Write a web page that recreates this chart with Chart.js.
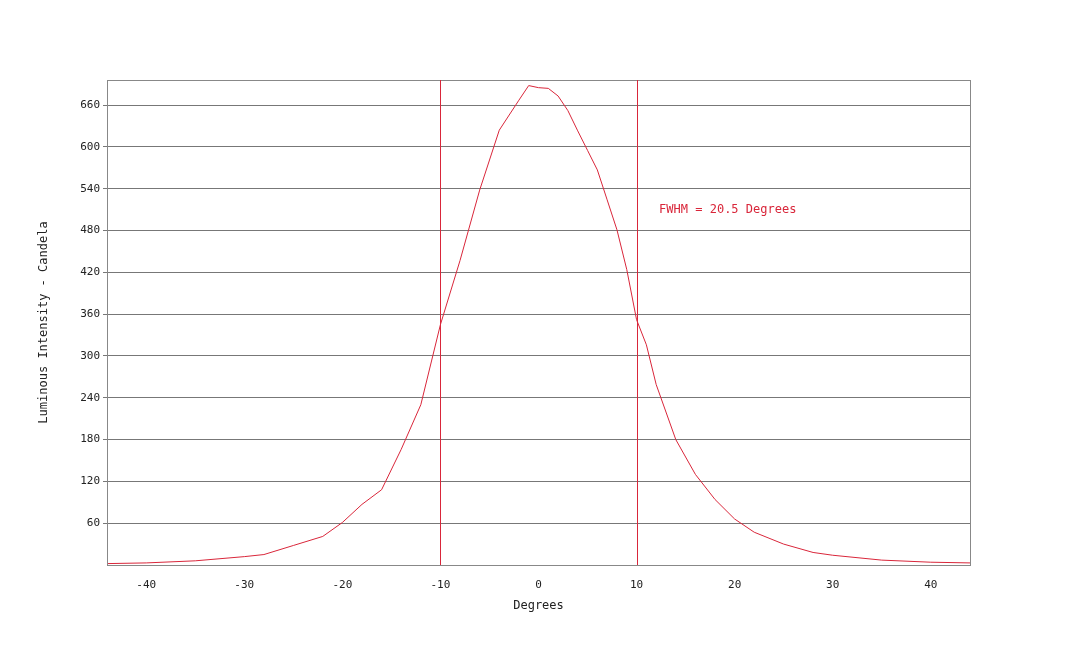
<!DOCTYPE html>
<html>
<head>
<meta charset="utf-8">
<script src="https://cdn.jsdelivr.net/npm/chart.js@4/dist/chart.umd.min.js"></script>
<style>
  html, body { margin: 0; padding: 0; background: #fff; }
  #wrap { width: 1080px; height: 646px; position: relative; }
</style>
</head>
<body>
<div id="wrap"><canvas id="beam"></canvas></div>
<script>
// beam profile
var degrees = [-44, -40, -35, -30, -28, -25, -22, -20, -18, -16, -14, -12, -10, -8, -6, -4, -2, -1, 0, 1, 2, 3, 4, 5, 6, 7, 8, 9, 10, 11, 12, 14, 16, 18, 20, 22, 25, 28, 30, 35, 40, 44];
var candela = [2, 3, 6, 12, 15, 28, 41, 61, 87, 108, 166, 230, 345, 437, 538, 624, 667, 688, 685, 684, 673, 652, 623, 595, 567, 524, 481, 424, 352, 316, 259, 180, 130, 94, 66, 47, 30, 18, 14, 7, 4, 3];
var xTicks = [-40, -30, -20, -10, 0, 10, 20, 30, 40];
var yTicks = [60, 120, 180, 240, 300, 360, 420, 480, 540, 600, 660];
var fwhmEdges = [-10, 10];
var fwhmLabel = 'FWHM = 20.5 Degrees';

var RED = '#d9263a';
var MONO = '"DejaVu Sans Mono", monospace';

var overlay = {
    id: 'overlay',
    afterDraw: function (chart) {
        var ctx = chart.ctx, x = chart.scales.x, y = chart.scales.y, a = chart.chartArea;
        ctx.save();
        ctx.strokeStyle = '#888';
        ctx.lineWidth = 1;
        ctx.strokeRect(a.left + 0.5, a.top + 0.5, a.right - a.left, a.bottom - a.top);

        ctx.strokeStyle = RED;
        fwhmEdges.forEach(function (d) {
            var px = Math.round(x.getPixelForValue(d)) + 0.5;
            ctx.beginPath();
            ctx.moveTo(px, a.top);
            ctx.lineTo(px, a.bottom);
            ctx.stroke();
        });
        ctx.fillStyle = RED;
        ctx.font = '12px ' + MONO;
        ctx.textBaseline = 'middle';
        ctx.fillText(fwhmLabel, x.getPixelForValue(12.3), y.getPixelForValue(510));

        // axis titles
        ctx.fillStyle = '#222';
        ctx.textAlign = 'center';
        ctx.fillText('Degrees', (a.left + a.right) / 2, 606);
        ctx.translate(44, (a.top + a.bottom) / 2);
        ctx.rotate(-Math.PI / 2);
        ctx.fillText('Luminous Intensity - Candela', 0, 0);
        ctx.restore();
    }
};

new Chart(document.getElementById('beam'), {
    type: 'scatter',
    data: {
        datasets: [{
            data: degrees.map(function (d, i) { return { x: d, y: candela[i] }; }),
            showLine: true,
            borderColor: RED,
            borderWidth: 1,
            pointRadius: 0,
            tension: 0
        }]
    },
    options: {
        responsive: true,
        maintainAspectRatio: false,
        animation: false,
        layout: { padding: { top: 80, right: 110, left: 0, bottom: 0 } },
        plugins: { legend: { display: false }, tooltip: { enabled: false } },
        scales: {
            x: {
                type: 'linear',
                min: -44, max: 44,
                afterBuildTicks: function (s) { s.ticks = xTicks.map(function (v) { return { value: v }; }); },
                afterFit: function (s) { s.height = 81; },
                grid: { display: false, drawOnChartArea: false },
                border: { color: '#888' },
                ticks: { color: '#222', font: { family: MONO, size: 11 }, maxRotation: 0, padding: 6 }
            },
            y: {
                min: 0, max: 696,
                afterBuildTicks: function (s) { s.ticks = yTicks.map(function (v) { return { value: v }; }); },
                afterFit: function (s) { s.width = 107; },
                grid: { color: '#777', lineWidth: 1, tickLength: 4 },
                border: { color: '#888' },
                ticks: { color: '#222', font: { family: MONO, size: 11 } }
            }
        }
    },
    plugins: [overlay]
});
</script>
</body>
</html>
